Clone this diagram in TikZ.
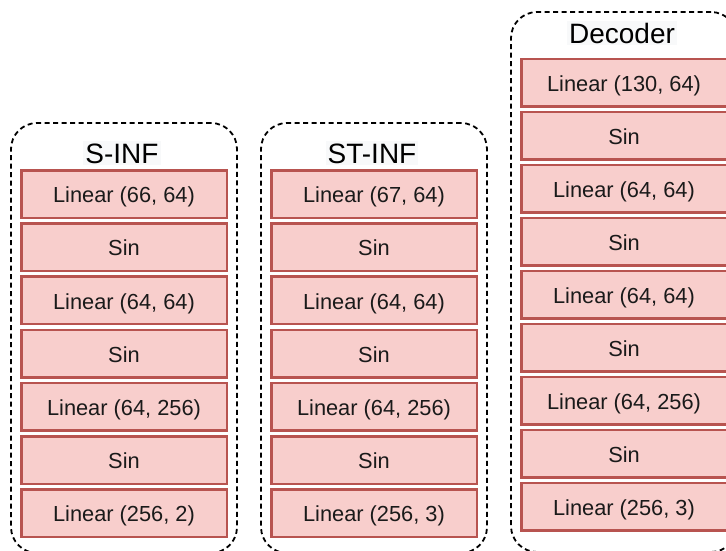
\documentclass[tikz,border=0pt]{standalone}
\usepackage{fontspec}
\setmainfont{Liberation Sans}
\definecolor{layerfill}{HTML}{F8CECC}
\definecolor{layerline}{HTML}{B85450}
\definecolor{titlebg}{HTML}{F8F9FA}
\definecolor{inktext}{HTML}{1A1A1A}
\tikzset{
  group/.style={draw=black, line width=1.8pt, dash pattern=on 5pt off 3.5pt,
    rounded corners=26pt, minimum width=226pt, inner sep=0pt},
  layer/.style={draw=layerline, fill=layerfill, line width=2.5pt,
    minimum width=205.5pt, minimum height=47.5pt, inner sep=0pt,
    text height=17.5pt, text depth=0pt,
    font=\fontsize{21.8}{24}\selectfont, text=inktext},
  grouptitle/.style={fill=titlebg, inner sep=2pt, anchor=base,
    font=\fontsize{28}{32}\selectfont, text=black}
}
\begin{document}
\begin{tikzpicture}[x=1pt,y=-1pt]
\clip (0,0) rectangle (726,550);
\fill[white] (0,0) rectangle (726,550);

% dashed group outlines
\node[group, minimum height=430pt] (g1) at (124,338) {};
\node[group, minimum height=430pt] (g2) at (374,338) {};
\node[group, minimum height=540pt] (g3) at (624,282) {};

% group titles
\node[grouptitle] (t1) at (122,163) {S-INF};
\node[grouptitle] (t2) at (372,163) {ST-INF};
\node[grouptitle] (t3) at (622,43) {Decoder};

% S-INF layers
\foreach \lbl [count=\i from 0] in {Linear (66{,} 64),Sin,Linear (64{,} 64),Sin,Linear (64{,} 256),Sin,Linear (256{,} 2)}
  \node[layer] (a\i) at (124,194+53.2*\i) {\lbl};

% ST-INF layers
\foreach \lbl [count=\i from 0] in {Linear (67{,} 64),Sin,Linear (64{,} 64),Sin,Linear (64{,} 256),Sin,Linear (256{,} 3)}
  \node[layer] (b\i) at (374,194+53.2*\i) {\lbl};

% Decoder layers
\foreach \lbl [count=\i from 0] in {Linear (130{,} 64),Sin,Linear (64{,} 64),Sin,Linear (64{,} 64),Sin,Linear (64{,} 256),Sin,Linear (256{,} 3)}
  \node[layer] (c\i) at (624,82.5+53*\i) {\lbl};
\end{tikzpicture}
\end{document}
